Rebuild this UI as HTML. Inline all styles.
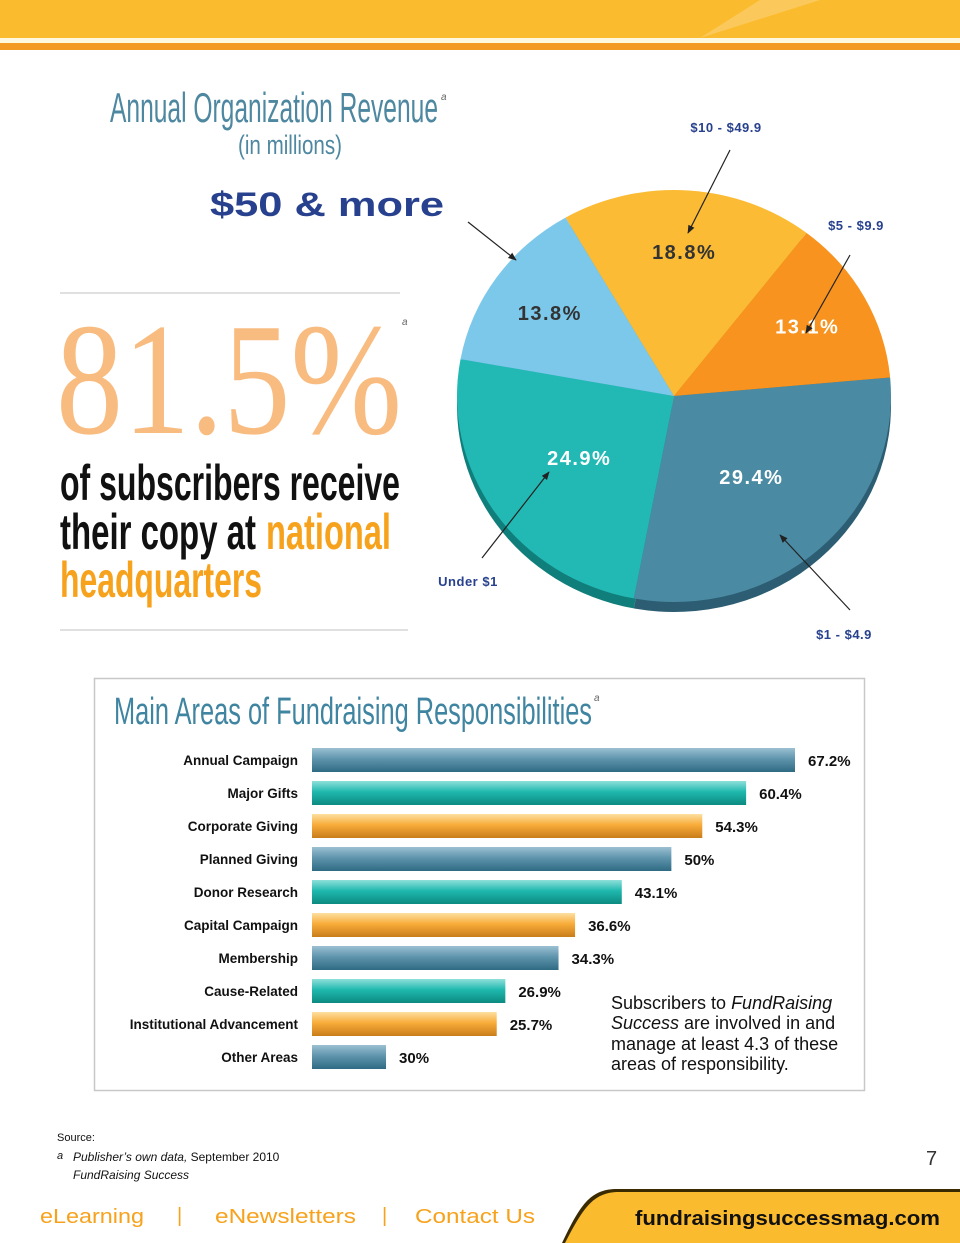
<!DOCTYPE html>
<html><head><meta charset="utf-8"><style>
html,body{margin:0;padding:0;background:#fff}
svg{display:block}
</style></head><body>
<svg id="pg" width="960" height="1243" viewBox="0 0 960 1243" xmlns="http://www.w3.org/2000/svg" font-family="Liberation Sans, sans-serif">
<defs>
<linearGradient id="gBlue" x1="0" y1="0" x2="0" y2="1"><stop offset="0" stop-color="#9cc0d2"/><stop offset="0.45" stop-color="#5f95ad"/><stop offset="1" stop-color="#2f6a83"/></linearGradient>
<linearGradient id="gTeal" x1="0" y1="0" x2="0" y2="1"><stop offset="0" stop-color="#8fe0da"/><stop offset="0.45" stop-color="#1fb8ae"/><stop offset="1" stop-color="#0c8a80"/></linearGradient>
<linearGradient id="gOr" x1="0" y1="0" x2="0" y2="1"><stop offset="0" stop-color="#fde0a0"/><stop offset="0.45" stop-color="#f8ac3a"/><stop offset="1" stop-color="#c97d1a"/></linearGradient>
<marker id="arr" viewBox="0 0 10 10" refX="9" refY="5" markerWidth="7" markerHeight="7" orient="auto"><path d="M0,1 L10,5 L0,9 z" fill="#222"/></marker>
</defs>
<!-- header -->
<rect x="0" y="0" width="960" height="38" fill="#fbbb2e"/>
<path d="M700,38 L760,0 L820,0 Z" fill="#fcd27a" opacity="0.6"/>
<rect x="0" y="38" width="960" height="5" fill="#fff8e0"/>
<rect x="0" y="43" width="960" height="7" fill="#f39a25"/>

<!-- left titles -->
<g>
<text x="110" y="122" font-size="42" fill="#4d87a0" textLength="328" lengthAdjust="spacingAndGlyphs">Annual Organization Revenue</text>
<text x="441" y="100" font-size="10" font-style="italic" fill="#666">a</text>
<text x="238" y="154" font-size="27" fill="#4d87a0" textLength="104" lengthAdjust="spacingAndGlyphs">(in millions)</text>
</g>
<text x="210" y="216" font-size="34" font-weight="bold" fill="#27418e" textLength="234" lengthAdjust="spacingAndGlyphs">$50 &amp; more</text>

<line x1="60" y1="293" x2="400" y2="293" stroke="#d6d6d6" stroke-width="1.5"/>
<line x1="60" y1="630" x2="408" y2="630" stroke="#d6d6d6" stroke-width="1.5"/>
<text x="56" y="433" style="font-family:'Liberation Serif',serif" font-size="160" fill="#f9bc80" textLength="346" lengthAdjust="spacingAndGlyphs">81.5%</text>
<text x="402" y="325" font-size="10" font-style="italic" fill="#666">a</text>
<g font-weight="bold" font-size="50">
<text x="60" y="500" fill="#111" textLength="340" lengthAdjust="spacingAndGlyphs">of subscribers receive</text>
<text x="60" y="549" fill="#111" textLength="196" lengthAdjust="spacingAndGlyphs">their copy at</text>
<text x="266" y="549" fill="#f7a21c" textLength="125" lengthAdjust="spacingAndGlyphs">national</text>
<text x="60" y="597" fill="#f7a21c" textLength="202" lengthAdjust="spacingAndGlyphs">headquarters</text>
</g>

<!-- pie -->
<g id="pie"></g>

<!-- bar chart box -->
<rect x="94.5" y="678.5" width="770" height="412" fill="#fff" stroke="#c8c8c8" stroke-width="1.5"/>
<text x="114" y="724" font-size="38" fill="#3f84a0" textLength="478" lengthAdjust="spacingAndGlyphs">Main Areas of Fundraising Responsibilities</text>
<text x="594" y="701" font-size="10" font-style="italic" fill="#666">a</text>
<g id="bars"></g>
<g font-size="18" fill="#111">
<text x="611" y="1009">Subscribers to <tspan font-style="italic">FundRaising</tspan></text>
<text x="611" y="1029"><tspan font-style="italic">Success</tspan> are involved in and</text>
<text x="611" y="1050">manage at least 4.3 of these</text>
<text x="611" y="1070">areas of responsibility.</text>
</g>

<!-- source -->
<g fill="#111">
<text x="57" y="1141" font-size="11">Source:</text>
<text x="57" y="1159" font-size="11" font-style="italic">a</text>
<text x="73" y="1161" font-size="12"><tspan font-style="italic">Publisher’s own data,</tspan> September 2010</text>
<text x="73" y="1179" font-size="12" font-style="italic">FundRaising Success</text>
</g>
<text x="926" y="1165" font-size="20" fill="#333">7</text>

<!-- footer -->
<g font-size="20" fill="#f7a21c">
<text x="40" y="1223" textLength="104" lengthAdjust="spacingAndGlyphs">eLearning</text>
<text x="177" y="1222">|</text>
<text x="215" y="1223" textLength="141" lengthAdjust="spacingAndGlyphs">eNewsletters</text>
<text x="382" y="1222">|</text>
<text x="415" y="1223" textLength="120" lengthAdjust="spacingAndGlyphs">Contact Us</text>
</g>
<path d="M562,1243 C580,1205 590,1190 615,1189 L960,1189 L960,1243 Z" fill="#3a2a00"/>
<path d="M565,1243 C583,1208 593,1193 617,1192 L960,1192 L960,1243 Z" fill="#fbbb2e"/>
<text x="635" y="1225" font-size="20" font-weight="bold" fill="#111" textLength="305" lengthAdjust="spacingAndGlyphs">fundraisingsuccessmag.com</text>
</svg>
<script>
// Pie data
const pieCategories = ["$10 - $49.9", "$5 - $9.9", "$1 - $4.9", "Under $1", "$50 & more"];
const pieValues = [18.8, 13.1, 29.4, 24.9, 13.8];
const pieLabels = ["18.8%", "13.1%", "29.4%", "24.9%", "13.8%"];
// Bar data
const barCategories = ["Annual Campaign","Major Gifts","Corporate Giving","Planned Giving","Donor Research","Capital Campaign","Membership","Cause-Related","Institutional Advancement","Other Areas"];
const barValues = [67.2, 60.4, 54.3, 50, 43.1, 36.6, 34.3, 26.9, 25.7, 10.3];
const barLabels = ["67.2%","60.4%","54.3%","50%","43.1%","36.6%","34.3%","26.9%","25.7%","30%"];

const NS = "http://www.w3.org/2000/svg";
function mk(tag, attrs, parent){const e=document.createElementNS(NS,tag);for(const k in attrs)e.setAttribute(k,attrs[k]);parent.appendChild(e);return e;}

// pie
(function(){
  const g=document.getElementById('pie');
  const cx=674, cy=396, rx=217, ry=206;
  const colors=["#fbbb35","#f7931e","#4a8aa3","#22b9b5","#7cc8ea"];
  const dark=["#c98a10","#c46a08","#2c5d72","#107f7c","#4e98ba"];
  const labelColors=["#333","#fff","#fff","#fff","#333"];
  const total=pieValues.reduce((a,b)=>a+b,0);
  const start=-30;
  function pt(a,r){const t=a*Math.PI/180;return [cx+rx*r*Math.sin(t), cy-ry*r*Math.cos(t)];}
  let a0=start;
  pieValues.forEach((v,i)=>{
    const a1=a0+v/total*360;
    const p0=pt(a0,1),p1=pt(a1,1);
    const large=(a1-a0)>180?1:0;
    const d=`M${cx},${cy+10} L${p0[0]},${p0[1]+10} A${rx},${ry} 0 ${large} 1 ${p1[0]},${p1[1]+10} Z`;
    const s=mk('path',{d:d,fill:dark[i]},g);
    
    
    a0=a1;
  });
  a0=start;
  pieValues.forEach((v,i)=>{
    const a1=a0+v/total*360;
    const p0=pt(a0,1),p1=pt(a1,1);
    const large=(a1-a0)>180?1:0;
    const d=`M${cx},${cy} L${p0[0]},${p0[1]} A${rx},${ry} 0 ${large} 1 ${p1[0]},${p1[1]} Z`;
    const s=mk('path',{d:d,fill:colors[i]},g);
    
    
    const mid=(a0+a1)/2;
    const lp=pt(mid, v>20?0.53:0.7);
    const t=mk('text',{x:lp[0],y:lp[1]+7,'text-anchor':'middle','font-size':'20','font-weight':'bold',fill:labelColors[i],'letter-spacing':'1.5'},g);
    t.textContent=pieLabels[i];
    
    
    a0=a1;
  });
  const callouts=[
    {c:0,tx:726,ty:132,x1:730,y1:150,x2:688,y2:233},
    {c:1,tx:856,ty:230,x1:850,y1:255,x2:806,y2:333},
    {c:2,tx:844,ty:639,x1:850,y1:610,x2:780,y2:535},
    {c:3,tx:468,ty:586,x1:482,y1:558,x2:549,y2:472}
  ];
  callouts.forEach(o=>{
    const l=mk('line',{x1:o.x1,y1:o.y1,x2:o.x2,y2:o.y2,stroke:'#222','stroke-width':'1.2','marker-end':'url(#arr)'},g);
    
    
    const t=mk('text',{x:o.tx,y:o.ty,'text-anchor':'middle','font-size':'13','font-weight':'bold',fill:'#27418e','letter-spacing':'0.5'},g);
    t.textContent=pieCategories[o.c];
    
    
  });
  const l=mk('line',{x1:468,y1:222,x2:516,y2:260,stroke:'#222','stroke-width':'1.2','marker-end':'url(#arr)'},g);
  
  
})();

// bars
(function(){
  const g=document.getElementById('bars');
  const x0=312, scale=483/67.2, top0=760, step=33, h=24;
  const fills=["url(#gBlue)","url(#gTeal)","url(#gOr)"];
  const xs=v=>v*scale;
  barCategories.forEach((c,i)=>{
    const yc=top0+i*step;
    const lab=mk('text',{x:298,y:yc+5,'text-anchor':'end','font-size':'13.5','font-weight':'bold',fill:'#111'},g);
    lab.textContent=c;
    
    
    const w=xs(barValues[i]);
    const r=mk('rect',{x:x0,y:yc-h/2,width:w,height:h,fill:fills[i%3]},g);
    
    
    const v=mk('text',{x:x0+w+13,y:yc+6,'font-size':'15','font-weight':'bold',fill:'#111'},g);
    v.textContent=barLabels[i];
    
    
  });
})();
</script>
</body></html>
